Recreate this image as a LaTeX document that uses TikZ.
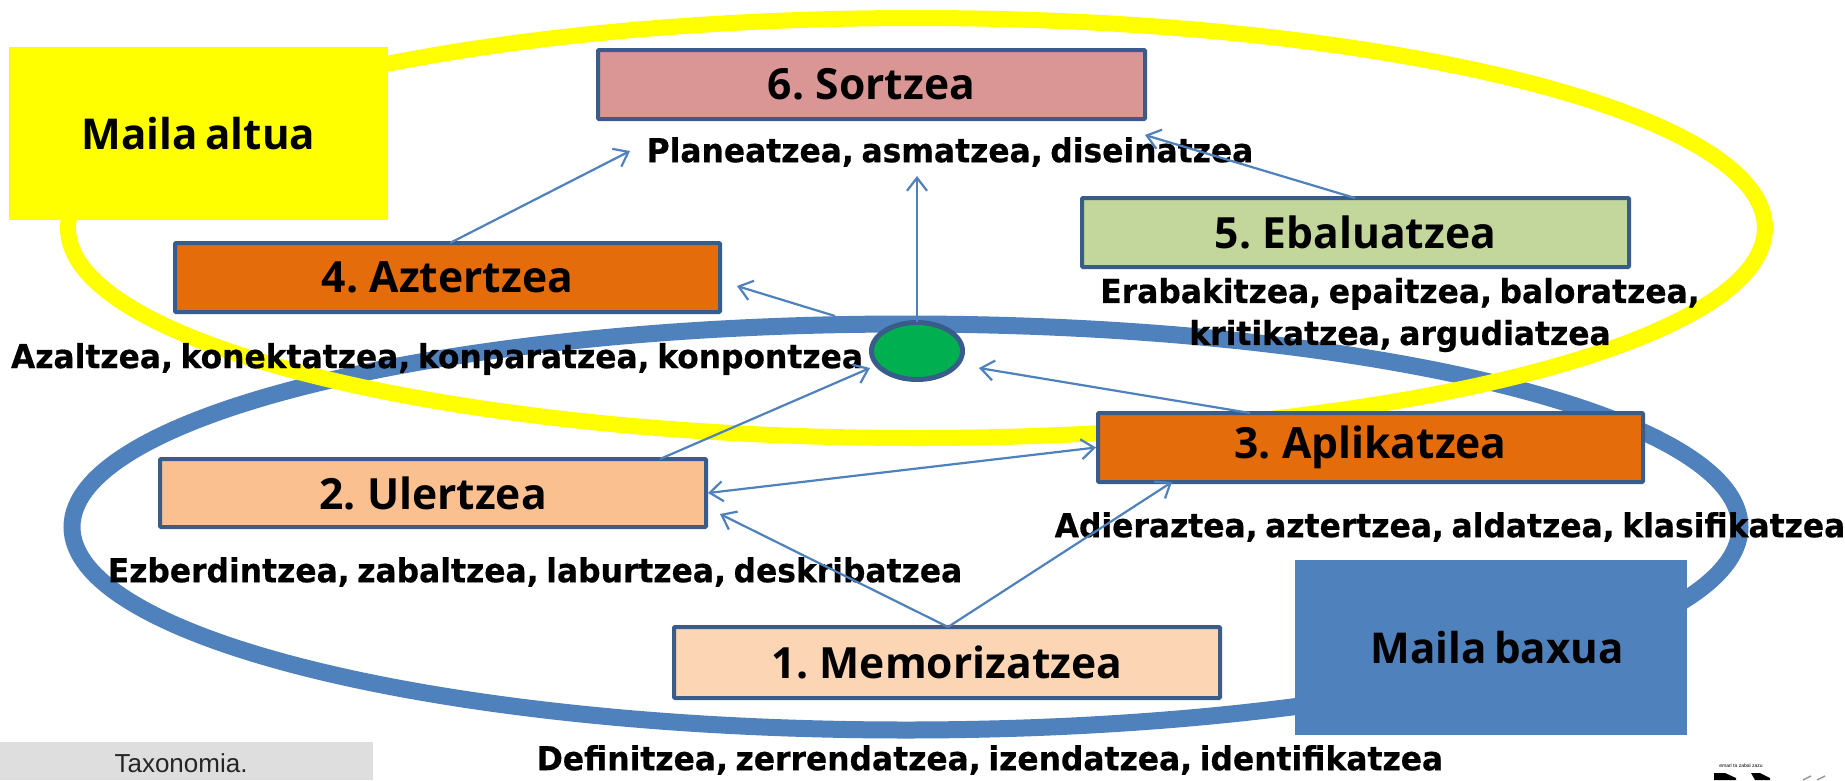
\documentclass[tikz,border=0pt]{standalone}
\usepackage{fontspec}
\setmainfont{Liberation Sans}
\newfontfamily\titlef{Open Sans}[FakeStretch=0.99,WordSpace=0.7]
\newfontfamily\verbf{DejaVu Sans}[FakeStretch=0.95,WordSpace=0.7,BoldFeatures={FakeBold=0.5}]
\usetikzlibrary{arrows.meta,shapes.geometric}
\definecolor{ringblue}{HTML}{4F81BD}
\definecolor{edgeblue}{HTML}{385D8A}
\definecolor{ringyellow}{HTML}{FFFF00}
\definecolor{c6}{HTML}{DA9694}
\definecolor{c5}{HTML}{C3D69B}
\definecolor{c4}{HTML}{E46C0A}
\definecolor{c2}{HTML}{FAC090}
\definecolor{c1}{HTML}{FCD5B5}
\definecolor{hubgreen}{HTML}{00B050}
\tikzset{
 x=1pt,y=-1pt,
 ring/.style={draw,ellipse,inner sep=0pt},
 level/.style={draw=edgeblue,line width=4pt,rounded corners=1pt,inner sep=0pt,font=\titlef\bfseries\fontsize{43}{43}\selectfont},
 tag/.style={inner sep=0pt,font=\titlef\bfseries\fontsize{42.5}{43}\selectfont},
 verbs/.style={inner sep=0pt,align=center,font=\verbf\bfseries\fontsize{33}{42}\selectfont},
 link/.style={draw=ringblue,line width=2.2pt,-{Straight Barb[length=13pt,width=20pt,line width=2.2pt]}},
}
\newcommand{\boxat}[8]{\node[#1,minimum width=#4pt-#2pt,minimum height=#5pt-#3pt,fill=#6] (#7) at ({(#2+#4)/2},{(#3+#5)/2}) {\raisebox{-2.5pt}{#8}};}
\begin{document}
\begin{tikzpicture}
\useasboundingbox (0,0) rectangle (1845,780);
\fill[white] (0,0) rectangle (1845,780);
\node[ring,draw=ringblue,line width=17pt,minimum width=1668pt,minimum height=406pt] (low) at (906,527) {};
\node[ring,draw=ringyellow,line width=16pt,minimum width=1697pt,minimum height=420pt] (high) at (916.5,228) {};
\boxat{tag}{9}{47}{388}{220}{ringyellow}{tagh}{Maila altua}
\boxat{tag}{1295}{560}{1687}{735}{ringblue}{tagl}{\hspace*{12pt}Maila baxua}
\boxat{level}{598}{50}{1145}{119}{c6}{s6}{6. Sortzea}
\boxat{level}{1082}{198}{1629}{267}{c5}{s5}{5. Ebaluatzea}
\boxat{level}{175}{243}{720}{312}{c4}{s4}{4. Aztertzea}
\boxat{level}{1098}{413}{1643}{482}{c4}{s3}{3. Aplikatzea}
\boxat{level}{160}{459}{706}{527}{c2}{s2}{2. Ulertzea}
\boxat{level}{674}{627}{1220}{698}{c1}{s1}{1. Memorizatzea}
\node[draw=edgeblue,line width=5pt,fill=hubgreen,ellipse,inner sep=0pt,minimum width=91pt,minimum height=57pt] (hub) at (917,351) {};
\node[verbs] (v6) at (950,152) {Planeatzea, asmatzea, diseinatzea};
\node[verbs] (v5) at (1400,315) {Erabakitzea, epaitzea, baloratzea,\\kritikatzea, argudiatzea};
\node[verbs] (v4) at (437,359) {Azaltzea, konektatzea, konparatzea, konpontzea};
\node[verbs] (v3) at (1450,527) {Adieraztea, aztertzea, aldatzea, klasifikatzea};
\node[verbs] (v2) at (535,572) {Ezberdintzea, zabaltzea, laburtzea, deskribatzea};
\node[verbs] (v1) at (990,760) {Definitzea, zerrendatzea, izendatzea, identifikatzea};
\coordinate (a4) at (737,286);
\coordinate (a6l) at (630,151);
\coordinate (a6r) at (1145,135);
\coordinate (ah) at (870,368);
\coordinate (ahr) at (979,368);
\coordinate (a2b) at (720,514);
\coordinate (a3b) at (1172,482);
\coordinate (f4) at (450,243);
\coordinate (f5) at (1355,198);
\coordinate (fh4) at (835,316);
\coordinate (fht) at (917,322);
\coordinate (a6t) at (917,176);
\coordinate (f3) at (1250,413);
\coordinate (f2) at (660,459);
\coordinate (f1) at (948,627);
\draw[link] (f4) -- (a6l);
\draw[link] (f5) -- (a6r);
\draw[link] (fh4) -- (a4);
\draw[link] (fht) -- (a6t);
\draw[link] (f3) -- (ahr);
\draw[link] (f2) -- (ah);
\draw[link,{Straight Barb[length=13pt,width=20pt,line width=2.2pt]}-{Straight Barb[length=13pt,width=20pt,line width=2.2pt]}] (s2.east) -- (s3.west);
\draw[link] (f1) -- (a2b);
\draw[link] (f1) -- (a3b);
\fill[black!13] (0,742) rectangle (373,780);
\node[inner sep=0pt,font=\fontsize{26}{26}\selectfont,text=black!85] (cap) at (181,763) {Taxonomia.};
\node[inner sep=0pt,font=\fontsize{5}{5}\selectfont] (logot) at (1741,766) {emari ta zabal zazu};
\fill[black] (1714,773) -- (1725,773) -- (1736,778) -- (1736,780) -- (1714,780) -- cycle;
\fill[black] (1751,773) -- (1760,773) -- (1770,778) -- (1770,780) -- (1755,780) -- cycle;
\draw[black!40,line width=1.5pt] (1803,780) -- (1811,776) (1817,780) -- (1825,776);
\end{tikzpicture}
\end{document}
